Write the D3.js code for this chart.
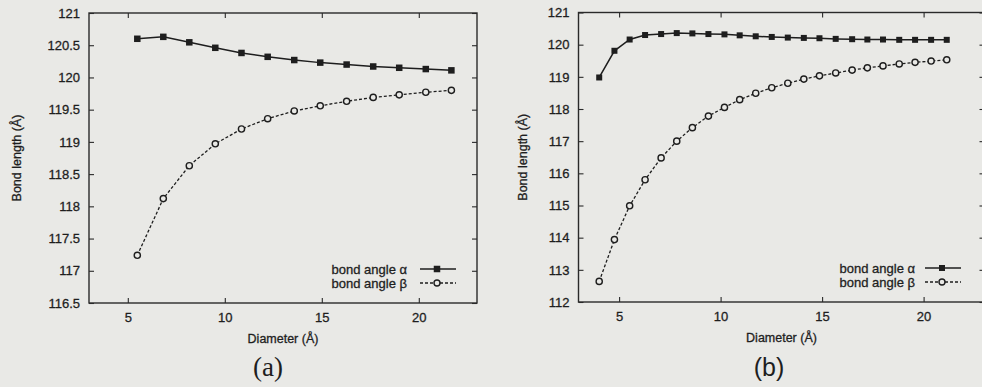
<!DOCTYPE html>
<html>
<head>
<meta charset="utf-8">
<script src="https://cdn.jsdelivr.net/npm/d3@7"></script>
<style>
  html, body { margin: 0; padding: 0; background: #e9e9e6; }
  svg { display: block; }
</style>
</head>
<body>
<svg id="fig" width="982" height="387"></svg>
<script>
// Panel (a): armchair-type series
const diameterA = [5.49, 6.83, 8.17, 9.51, 10.86, 12.21, 13.58, 14.92, 16.28, 17.65, 18.99, 20.36, 21.68];
const alphaA    = [120.60, 120.63, 120.545, 120.46, 120.38, 120.32, 120.27, 120.23, 120.20, 120.17, 120.15, 120.13, 120.11];
const betaA     = [117.24, 118.12, 118.63, 118.97, 119.20, 119.36, 119.48, 119.56, 119.63, 119.69, 119.73, 119.77, 119.80];
const yTicksA   = [116.5, 117, 117.5, 118, 118.5, 119, 119.5, 120, 120.5, 121];

// Panel (b): zigzag-type series
const diameterB = [4.02, 4.77, 5.52, 6.28, 7.07, 7.84, 8.61, 9.40, 10.19, 10.94, 11.73, 12.52,
                   13.31, 14.10, 14.87, 15.67, 16.48, 17.23, 18.00, 18.80, 19.58, 20.37, 21.14];
const alphaB    = [118.98, 119.81, 120.16, 120.30, 120.33, 120.36, 120.35, 120.33, 120.32, 120.29, 120.26, 120.24,
                   120.22, 120.21, 120.20, 120.18, 120.17, 120.16, 120.16, 120.15, 120.15, 120.15, 120.15];
const betaB     = [112.64, 113.94, 114.99, 115.80, 116.48, 117.00, 117.42, 117.78, 118.05, 118.29, 118.49, 118.66,
                   118.80, 118.93, 119.03, 119.12, 119.21, 119.28, 119.34, 119.40, 119.45, 119.49, 119.53];
const yTicksB   = [112, 113, 114, 115, 116, 117, 118, 119, 120, 121];

const xTicks = [5, 10, 15, 20];
const xDomain = [3, 23];
const seriesNames = ["bond angle \u03b1", "bond angle \u03b2"];
const xTitle = "Diameter (\u00c5)";
const yTitle = "Bond length (\u00c5)";

const svg = d3.select("#fig");
const ink = "#1e1e1e";
const paper = "#e9e9e6";
const sans = "'Liberation Sans', Arial, Helvetica, sans-serif";

// text helper: slightly heavy strokes give the printed look
function label(sel, size, family) {
  return sel.style("font-family", family || sans).style("font-size", size + "px")
    .style("fill", ink).style("stroke", ink).style("stroke-width", "0.3px");
}

function panel(opts) {
  const { left, right, top, bottom, xs, alpha, beta, yTicks, yDomain, fmt,
          yTitleX, tag, tagX, tagFont, tagSize, sq, legendX, legendRight } = opts;
  const x = d3.scaleLinear().domain(xDomain).range([left, right]);
  const y = d3.scaleLinear().domain(yDomain).range([bottom, top]);
  const g = svg.append("g");
  const tickLen = 5;

  // frame
  g.append("rect").attr("x", left).attr("y", top)
    .attr("width", right - left).attr("height", bottom - top)
    .attr("fill", "none").attr("stroke", "#2a2a2a").attr("stroke-width", 1.4);

  // axes with inward ticks, mirrored on opposite sides
  const axB = g.append("g").attr("transform", `translate(0,${bottom})`)
    .call(d3.axisBottom(x).tickValues(xTicks).tickSize(-tickLen).tickPadding(10).tickFormat(d3.format("d")));
  const axT = g.append("g").attr("transform", `translate(0,${top})`)
    .call(d3.axisTop(x).tickValues(xTicks).tickSize(-tickLen).tickFormat(""));
  const axL = g.append("g").attr("transform", `translate(${left},0)`)
    .call(d3.axisLeft(y).tickValues(yTicks).tickSize(-tickLen).tickPadding(9).tickFormat(fmt));
  const axR = g.append("g").attr("transform", `translate(${right},0)`)
    .call(d3.axisRight(y).tickValues(yTicks).tickSize(-tickLen).tickFormat(""));
  [axB, axT, axL, axR].forEach(a => {
    a.select(".domain").remove();
    a.selectAll(".tick line").attr("stroke", "#2a2a2a").attr("stroke-width", 1.1);
    label(a.selectAll("text"), 13);
  });

  // axis titles
  label(g.append("text").attr("x", (left + right) / 2).attr("y", bottom + 40)
    .attr("text-anchor", "middle").text(xTitle), 12.5);
  label(g.append("text").attr("transform", `translate(${yTitleX},${(top + bottom) / 2}) rotate(-90)`)
    .attr("text-anchor", "middle").text(yTitle), 12.5);

  const line = d3.line().x(d => x(d[0])).y(d => y(d[1]));
  const ptsA = xs.map((d, i) => [d, alpha[i]]);
  const ptsB = xs.map((d, i) => [d, beta[i]]);

  // beta: dashed with open circles
  g.append("path").datum(ptsB).attr("d", line).attr("fill", "none")
    .attr("stroke", ink).attr("stroke-width", 1.3).attr("stroke-dasharray", "3,2");
  g.selectAll("circle.b").data(ptsB).join("circle").attr("class", "b")
    .attr("cx", d => x(d[0])).attr("cy", d => y(d[1])).attr("r", 3.1)
    .attr("fill", paper).attr("stroke", ink).attr("stroke-width", 1.4);

  // alpha: solid with filled squares
  g.append("path").datum(ptsA).attr("d", line).attr("fill", "none")
    .attr("stroke", ink).attr("stroke-width", 1.5);
  g.selectAll("rect.a").data(ptsA).join("rect").attr("class", "a")
    .attr("x", d => x(d[0]) - sq / 2).attr("y", d => y(d[1]) - sq / 2)
    .attr("width", sq).attr("height", sq).attr("fill", ink);

  // legend
  const rows = [bottom - 34, bottom - 20];
  const lx0 = legendX, lx1 = legendX + 36, lm = legendX + 17;
  rows.forEach((ry, i) => {
    label(g.append("text").attr("x", legendRight).attr("y", ry + 4.5)
      .attr("text-anchor", "end").text(seriesNames[i]), 13);
    const ln = g.append("line").attr("x1", lx0).attr("x2", lx1).attr("y1", ry).attr("y2", ry)
      .attr("stroke", ink).attr("stroke-width", i ? 1.3 : 1.5);
    if (i) {
      ln.attr("stroke-dasharray", "3,2");
      g.append("circle").attr("cx", lm).attr("cy", ry).attr("r", 3)
        .attr("fill", paper).attr("stroke", ink).attr("stroke-width", 1.4);
    } else {
      g.append("rect").attr("x", lm - sq / 2).attr("y", ry - sq / 2)
        .attr("width", sq).attr("height", sq).attr("fill", ink);
    }
  });

  // panel tag
  svg.append("text").attr("x", tagX).attr("y", 376).attr("text-anchor", "middle")
    .style("font-family", tagFont).style("font-size", tagSize + "px").style("fill", ink).text(tag);
}

panel({
  left: 89, right: 477, top: 13, bottom: 303,
  xs: diameterA, alpha: alphaA, beta: betaA,
  yTicks: yTicksA, yDomain: [116.5, 121], fmt: d3.format("~g"),
  yTitleX: 21, tag: "(a)", tagX: 268,
  tagFont: "'Liberation Serif', 'Times New Roman', serif", tagSize: 27,
  sq: 6.5, legendX: 420, legendRight: 407
});

panel({
  left: 578.5, right: 984.5, top: 12.5, bottom: 302,
  xs: diameterB, alpha: alphaB, beta: betaB,
  yTicks: yTicksB, yDomain: [112, 121], fmt: d3.format("d"),
  yTitleX: 527, tag: "(b)", tagX: 769,
  tagFont: sans, tagSize: 25,
  sq: 6, legendX: 925, legendRight: 915
});
</script>
</body>
</html>
